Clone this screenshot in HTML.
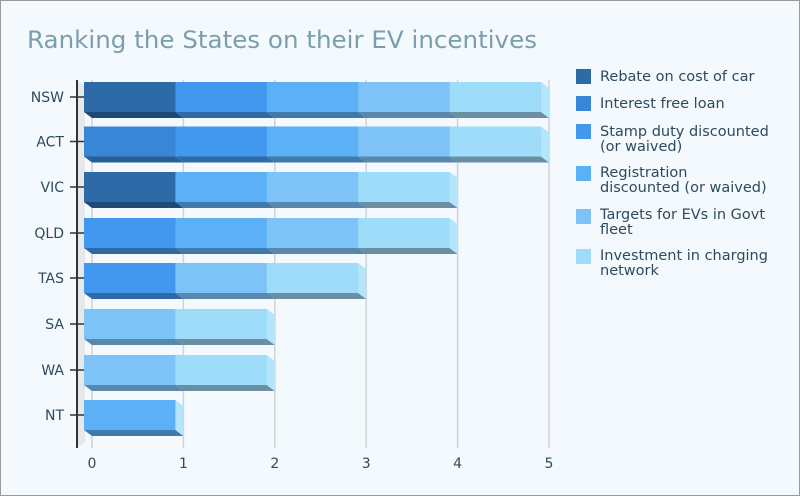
<!DOCTYPE html>
<html><head><meta charset="utf-8"><style>
html,body{margin:0;padding:0;background:#fff;}
svg{display:block;font-family:"DejaVu Sans","Liberation Sans",sans-serif;}
</style></head><body>
<svg id="c" width="800" height="497" viewBox="0 0 800 497" xmlns="http://www.w3.org/2000/svg">
<rect x="0.5" y="0.5" width="799" height="495" fill="#f4f9fd" stroke="#9a9a9a"/>
<text x="27" y="48" font-size="24" fill="#7b9ead" textLength="510" lengthAdjust="spacingAndGlyphs">Ranking the States on their EV incentives</text>
<polygon points="77,80 85,86 85,442 77,448" fill="#e6e8ea"/>
<g id="grid" stroke="#cfd3d6" stroke-width="1.5"></g>
<g id="bars"></g>
<line x1="77" y1="80" x2="77" y2="448" stroke="#333" stroke-width="2"/>
<g id="labels" font-size="14" fill="#2e4a5c"></g>
<g font-size="14.5" fill="#2e4a5c">
<rect x="576" y="69" width="15" height="15" fill="#2e6aa8"/><text x="600" y="81">Rebate on cost of car</text>
<rect x="576" y="96" width="15" height="15" fill="#3a86d6"/><text x="600" y="108">Interest free loan</text>
<rect x="576" y="124" width="15" height="15" fill="#4298ee"/><text x="600" y="136">Stamp duty discounted</text><text x="600" y="151">(or waived)</text>
<rect x="576" y="166" width="15" height="15" fill="#5cb0f5"/><text x="600" y="177">Registration</text><text x="600" y="192">discounted (or waived)</text>
<rect x="576" y="209" width="15" height="15" fill="#7ec3f7"/><text x="600" y="219">Targets for EVs in Govt</text><text x="600" y="234">fleet</text>
<rect x="576" y="249" width="15" height="15" fill="#9fdcfa"/><text x="600" y="260">Investment in charging</text><text x="600" y="275">network</text>
</g>
</svg>
<script>
var NS="http://www.w3.org/2000/svg";
function el(p,t,a,txt){var e=document.createElementNS(NS,t);for(var k in a)e.setAttribute(k,a[k]);if(txt!=null)e.textContent=txt;p.appendChild(e);return e;}
var C={R:["#2e6aa8","#1f4a78"],I:["#3a86d6","#285e96"],S:["#4298ee","#2e6aa6"],G:["#5cb0f5","#3f7aaa"],T:["#7ec3f7","#5888ad"],V:["#9fdcfa","#6a8fa3"]};
var rows=[["NSW",97,"RSGTV"],["ACT",141.5,"ISGTV"],["VIC",187,"RGTV"],["QLD",233,"SGTV"],["TAS",278,"STV"],["SA",324,"TV"],["WA",370,"TV"],["NT",415,"G"]];
var u=91.4,x0=84;
var g=document.getElementById("grid"),b=document.getElementById("bars"),l=document.getElementById("labels");
for(var i=0;i<=5;i++){var x=92+i*u;el(g,"line",{x1:x,y1:80,x2:x,y2:448});el(l,"text",{x:x,y:468,"text-anchor":"middle"},String(i));}
rows.forEach(function(r){var c=r[1],s=r[2];
 el(l,"text",{x:64,y:c+5,"text-anchor":"end"},r[0]);
 el(l,"line",{x1:70,y1:c,x2:84,y2:c,stroke:"#333","stroke-width":1.5});
 for(var j=0;j<s.length;j++){var col=C[s[j]],xa=x0+j*u,xb=x0+(j+1)*u;
  el(b,"polygon",{points:xa+","+(c+15)+" "+xb+","+(c+15)+" "+(xb+8)+","+(c+21)+" "+(xa+8)+","+(c+21),fill:col[1]});
  el(b,"rect",{x:xa,y:c-15,width:u+0.5,height:30,fill:col[0]});
  if(j==s.length-1){el(b,"polygon",{points:xb+","+(c-15)+" "+(xb+8)+","+(c-9)+" "+(xb+8)+","+(c+21)+" "+xb+","+(c+15),fill:"#b5e5fb"});}
 }
});
</script>
</body></html>
